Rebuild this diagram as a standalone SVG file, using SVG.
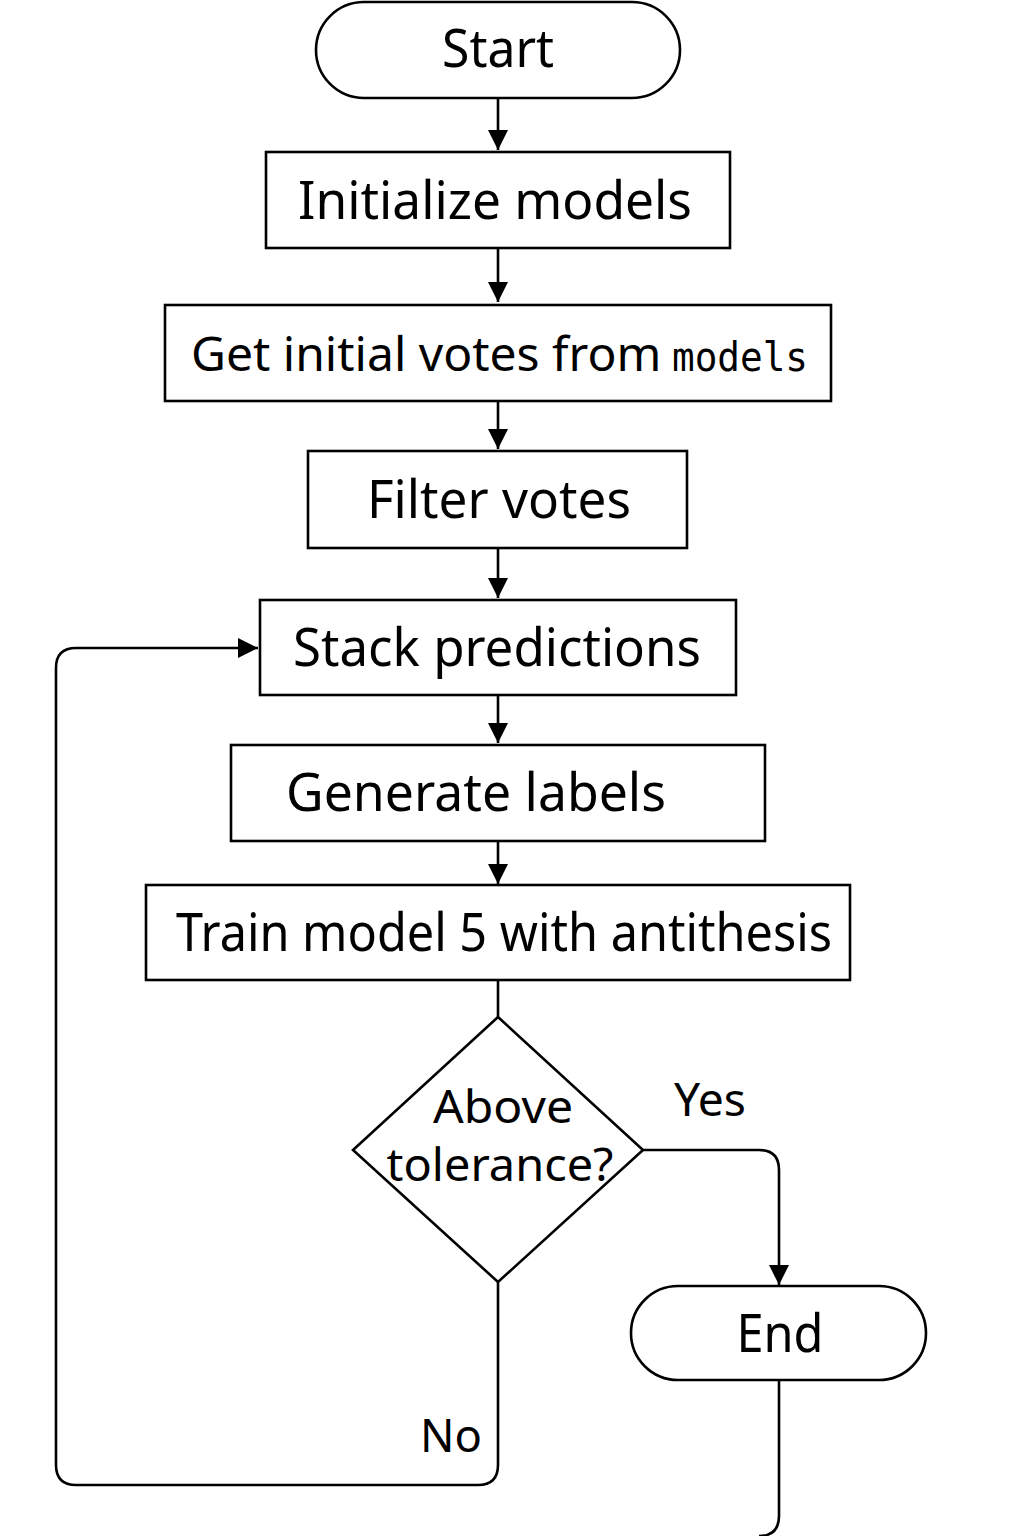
<svg xmlns="http://www.w3.org/2000/svg" width="1024" height="1536" viewBox="0 0 1024 1536">
<defs>
<style>
.n{fill:#fff;stroke:#000;stroke-width:2.6}
.t{font-family:"Noto Sans","Open Sans",sans-serif;font-size:52px;fill:#000;text-anchor:middle}
.s{font-size:46px}
.l{text-anchor:start;font-size:48px}
.c{fill:none;stroke:#000;stroke-width:2.6}
.m{font-family:"DejaVu Sans Mono","Liberation Mono",monospace;font-size:40px;fill:#000;text-anchor:start}
</style>
<marker id="ah" viewBox="0 0 12 12" refX="12" refY="6" markerWidth="20" markerHeight="20" markerUnits="userSpaceOnUse" orient="auto"><path d="M0,0 L12,6 L0,12 z" fill="#000"/></marker>
</defs>
<rect width="1024" height="1536" fill="#fff"/>
<g id="connectors">
<path class="c" d="M498,98 V150" marker-end="url(#ah)"/>
<path class="c" d="M498,248 V302" marker-end="url(#ah)"/>
<path class="c" d="M498,401 V449" marker-end="url(#ah)"/>
<path class="c" d="M498,548 V598" marker-end="url(#ah)"/>
<path class="c" d="M498,695 V743" marker-end="url(#ah)"/>
<path class="c" d="M498,841 V884" marker-end="url(#ah)"/>
<path class="c" d="M498,980 V1017"/>
<path class="c" d="M643,1150 H759 Q779,1150 779,1170 V1285" marker-end="url(#ah)"/>
<path class="c" d="M498,1282 V1465 Q498,1485 478,1485 H76 Q56,1485 56,1465 V668 Q56,648 76,648 H258" marker-end="url(#ah)"/>
<path class="c" d="M779,1380 V1516 Q779,1536 759,1536"/>
</g>
<g id="start"><rect class="n" x="316" y="2" width="364" height="96" rx="48"/><text class="t" x="498" y="67" textLength="112" lengthAdjust="spacingAndGlyphs">Start</text></g>
<g id="init"><rect class="n" x="266" y="152" width="464" height="96"/><text class="t" x="495" y="219" textLength="394" lengthAdjust="spacingAndGlyphs">Initialize models</text></g>
<g id="votes"><rect class="n" x="165" y="305" width="666" height="96"/><text class="t l" x="191" y="371">Get initial votes from</text><text class="m" x="672" y="371" textLength="136" lengthAdjust="spacingAndGlyphs">models</text></g>
<g id="filter"><rect class="n" x="308" y="451" width="379" height="97"/><text class="t" x="499" y="518" textLength="264" lengthAdjust="spacingAndGlyphs">Filter votes</text></g>
<g id="stack"><rect class="n" x="260" y="600" width="476" height="95"/><text class="t" x="497" y="666" textLength="408" lengthAdjust="spacingAndGlyphs">Stack predictions</text></g>
<g id="labels"><rect class="n" x="231" y="745" width="534" height="96"/><text class="t" x="476" y="811" textLength="380" lengthAdjust="spacingAndGlyphs">Generate labels</text></g>
<g id="train"><rect class="n" x="146" y="885" width="704" height="95"/><text class="t" x="504" y="951" textLength="656" lengthAdjust="spacingAndGlyphs">Train model 5 with antithesis</text></g>
<g id="decision"><path class="n" d="M498,1017 L643,1150 L498,1282 L353,1150 Z"/><text class="t s" x="503" y="1123" textLength="140" lengthAdjust="spacingAndGlyphs">Above</text><text class="t s" x="500" y="1181" textLength="227" lengthAdjust="spacingAndGlyphs">tolerance?</text></g>
<g id="end"><rect class="n" x="631" y="1286" width="295" height="94" rx="47"/><text class="t" x="780" y="1352" textLength="87" lengthAdjust="spacingAndGlyphs">End</text></g>
<text class="t s" x="710" y="1116" textLength="72" lengthAdjust="spacingAndGlyphs">Yes</text>
<text class="t s" x="451" y="1452" textLength="62" lengthAdjust="spacingAndGlyphs">No</text>
</svg>
